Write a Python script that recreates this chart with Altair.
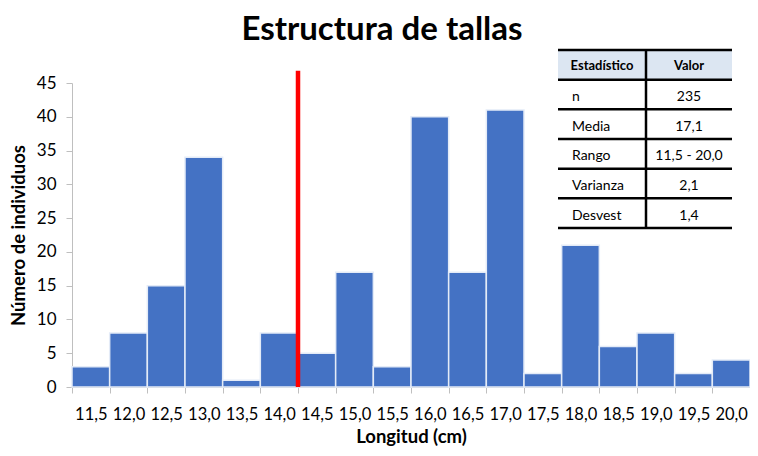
import altair as alt
import pandas as pd

# ---- data ----
categories = ["11,5", "12,0", "12,5", "13,0", "13,5", "14,0", "14,5", "15,0", "15,5",
              "16,0", "16,5", "17,0", "17,5", "18,0", "18,5", "19,0", "19,5", "20,0"]
counts = [3, 8, 15, 34, 1, 8, 5, 17, 3, 40, 17, 41, 2, 21, 6, 8, 2, 4]

ref_category = ["14,0"]      # red line drawn at the right edge of this class
ref_bottom = [0]
ref_top = [46.8]

table_header = ["Estadístico", "Valor"]
table_stats = ["n", "Media", "Rango", "Varianza", "Desvest"]
table_values = ["235", "17,1", "11,5 - 20,0", "2,1", "1,4"]

y_ticks = [0, 5, 10, 15, 20, 25, 30, 35, 40, 45]

FONT = "Lato"
BLUE = "#4472C4"
GREY = "#BFBFBF"

bars_df = pd.DataFrame({"talla": categories, "n": counts})
ref_df = pd.DataFrame({"talla": ref_category, "y0": ref_bottom, "y1": ref_top})

yscale = alt.Scale(domain=[0, 45], nice=False, zero=True)
xscale = alt.Scale(paddingInner=0, paddingOuter=0)
x_axis = alt.Axis(title="Longitud (cm)", labelAngle=0, tickBand="extent",
                  tickSize=6, labelPadding=13, labelFontSize=16.5,
                  titleFontSize=18.5, titlePadding=5)
y_axis = alt.Axis(title="Número de individuos", values=y_ticks,
                  tickSize=6, labelPadding=10, labelFontSize=17,
                  titleFontSize=18.5, titlePadding=8)

bars = alt.Chart(bars_df).mark_bar(
    color=BLUE, stroke="#e4ebf7", strokeWidth=1.5
).encode(
    x=alt.X("talla:N", sort=categories, scale=xscale, axis=x_axis),
    y=alt.Y("n:Q", scale=yscale, axis=y_axis),
)

rule = alt.Chart(ref_df).mark_rule(color="#FF0000", strokeWidth=4.5).encode(
    x=alt.X("talla:N", sort=categories, scale=xscale, bandPosition=1, axis=x_axis),
    y=alt.Y("y0:Q", scale=yscale, axis=y_axis),
    y2="y1:Q",
)

plot = alt.layer(bars, rule)

# ---- statistics table (own vertical scale, row units) ----
tscale = alt.Scale(domain=[0, 6], range=[-33, 145])
TL, TM, TR = 486, 574, 660

rows_df = pd.DataFrame({
    "r": [i + 1.58 for i in range(len(table_stats))],
    "stat": table_stats,
    "valor": table_values,
})
head_df = pd.DataFrame({"r": [0.55], "h1": [table_header[0]], "h2": [table_header[1]],
                        "top": [0], "bot": [1]})
lines_df = pd.DataFrame({"b": list(range(len(table_stats) + 2))})

head_bg = alt.Chart(head_df).mark_rect(color="#dce6f2").encode(
    x=alt.value(TL), x2=alt.value(TR),
    y=alt.Y("top:Q", scale=tscale, axis=None), y2="bot:Q",
)
h_lines = alt.Chart(lines_df).mark_rule(color="#000000", strokeWidth=2.5).encode(
    x=alt.value(TL), x2=alt.value(TR),
    y=alt.Y("b:Q", scale=tscale, axis=None),
)
v_line = alt.Chart(head_df).mark_rule(color="#000000", strokeWidth=2.5).encode(
    x=alt.value(TM),
    y=alt.Y("top:Q", scale=tscale, axis=None), y2=alt.datum(6),
)
head_t1 = alt.Chart(head_df).mark_text(font=FONT, fontSize=13, fontWeight="bold",
                                       color="#000000", align="center", baseline="middle").encode(
    x=alt.value((TL + TM) / 2), y=alt.Y("r:Q", scale=tscale, axis=None), text="h1:N")
head_t2 = alt.Chart(head_df).mark_text(font=FONT, fontSize=13, fontWeight="bold",
                                       color="#000000", align="center", baseline="middle").encode(
    x=alt.value((TM + TR) / 2), y=alt.Y("r:Q", scale=tscale, axis=None), text="h2:N")
stat_t = alt.Chart(rows_df).mark_text(font=FONT, fontSize=14, color="#000000",
                                      align="left", baseline="middle").encode(
    x=alt.value(TL + 14), y=alt.Y("r:Q", scale=tscale, axis=None), text="stat:N")
val_t = alt.Chart(rows_df).mark_text(font=FONT, fontSize=14, color="#000000",
                                     align="center", baseline="middle").encode(
    x=alt.value((TM + TR) / 2), y=alt.Y("r:Q", scale=tscale, axis=None), text="valor:N")

table = alt.layer(head_bg, h_lines, v_line, head_t1, head_t2, stat_t, val_t)

chart = alt.layer(plot, table).resolve_scale(y="independent").properties(
    width=678, height=304,
    autosize=alt.AutoSizeParams(type="none"),
    padding={"left": 64, "top": 75, "right": 0, "bottom": 60},
    title=alt.TitleParams("Estructura de tallas", font=FONT, fontSize=33, fontWeight="bold",
                          color="#000000", anchor="middle", frame="group", dx=-29, offset=2),
).configure_view(stroke=None).configure_axis(
    grid=False, domainColor=GREY, tickColor=GREY, labelColor="#000000", titleColor="#000000",
    labelFont=FONT, titleFont=FONT, titleFontWeight="bold",
)

chart.save("out.html", embed_options={"renderer": "svg", "actions": False})
